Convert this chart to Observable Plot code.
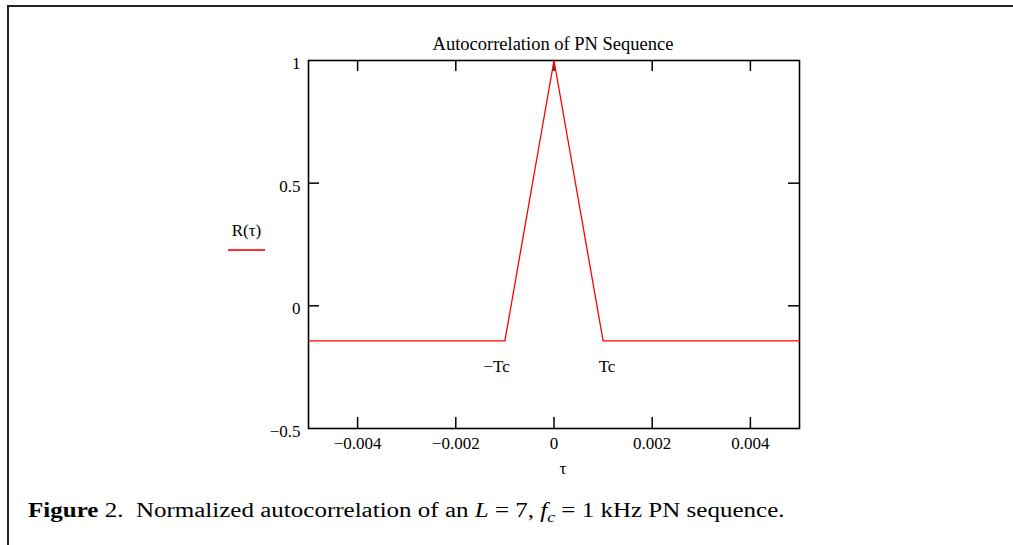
<!DOCTYPE html>
<html>
<head>
<meta charset="utf-8">
<script src="https://cdn.jsdelivr.net/npm/d3@7"></script>
<script src="https://cdn.jsdelivr.net/npm/@observablehq/plot@0.6"></script>
<style>
  html, body { margin: 0; padding: 0; background: #fff; }
  #wrap { position: relative; width: 1013px; height: 545px; overflow: hidden; font-family: "Liberation Serif", "Times New Roman", serif; color: #000; }
  #border { position: absolute; left: 7px; top: 5px; width: 1100px; height: 600px; border-top: 2px solid #222; border-left: 2px solid #222; }
  #chart { position: absolute; left: 0; top: 0; }
  .lbl { position: absolute; white-space: nowrap; font-family: "Liberation Serif", "Times New Roman", serif; }
  #title { left: 0; width: 1106px; text-align: center; top: 34px; font-size: 18.5px; }
  #xlab { left: 563px; transform: translateX(-50%); top: 459px; font-size: 17px; }
  #legend { left: 228px; top: 221px; width: 37px; text-align: center; font-size: 17px; }
  #legline { position: absolute; left: 228px; top: 249px; width: 37px; height: 2px; background: #f33; }
  #caption { left: 28px; top: 499px; font-size: 20.5px; transform: scaleX(1.22); transform-origin: 0 0; }
</style>
</head>
<body>
<div id="wrap">
  <div id="border"></div>
  <div id="chart"></div>
  <div class="lbl" id="title">Autocorrelation of PN Sequence</div>
  <div class="lbl" id="legend">R(τ)</div>
  <div id="legline"></div>
  <div class="lbl" id="xlab">τ</div>
  <div class="lbl" id="caption"><b>Figure</b> 2.&nbsp; Normalized autocorrelation of an <i>L</i> = 7, <i>f<sub style="font-size:0.7em">c</sub></i> = 1 kHz PN sequence.</div>
</div>
<script>
// data: autocorrelation R(tau) of an L = 7 PN sequence, Tc = 1 ms
const tau = [-0.005, -0.001, 0, 0.001, 0.005];
const R = [-1/7, -1/7, 1, -1/7, -1/7];

const xTicks = [-0.004, -0.002, 0, 0.002, 0.004];
const xTickLabels = ["−0.004", "−0.002", "0", "0.002", "0.004"];
const yTicks = [-0.5, 0, 0.5, 1];
const yTickLabels = ["−0.5", "0", "0.5", "1"];

const annoText = ["−Tc", "Tc"];
const annoX = [-0.00117, 0.00108];
const annoY = [-0.248, -0.248];

const xDomain = [-0.005, 0.005];
const yDomain = [-0.5, 1];

const W = 1013, H = 480;
const mL = 308, mR = W - 799, mT = 60, mB = H - 428;
const plotW = W - mL - mR, plotH = H - mT - mB;
const tk = 11;

const series = tau.map((t, i) => ({t, r: R[i]}));
const anno = annoText.map((s, i) => ({s, x: annoX[i], y: annoY[i]}));

const chart = Plot.plot({
  width: W,
  height: H,
  marginLeft: mL, marginRight: mR, marginTop: mT, marginBottom: mB,
  style: {fontFamily: "'Liberation Serif', 'Times New Roman', serif", fontSize: "17px", color: "#000", background: "transparent"},
  x: {domain: xDomain, type: "linear"},
  y: {domain: yDomain, type: "linear"},
  marks: [
    Plot.axisX({anchor: "bottom", ticks: xTicks, tickSize: 0, tickPadding: 8, tickFormat: (d) => xTickLabels[xTicks.indexOf(d)], label: null}),
    Plot.axisY({anchor: "left", ticks: yTicks, tickSize: 0, tickPadding: 8, dy: 3, tickFormat: (d) => yTickLabels[yTicks.indexOf(d)], label: null}),
    // inward tick marks
    Plot.tickX(xTicks, {x: d => d, insetTop: plotH - tk, stroke: "#000", strokeWidth: 1.5}),
    Plot.tickX(xTicks, {x: d => d, insetBottom: plotH - tk, stroke: "#000", strokeWidth: 1.5}),
    Plot.tickY(yTicks.slice(1, 3), {y: d => d, insetRight: plotW - tk, stroke: "#000", strokeWidth: 1.5}),
    Plot.tickY(yTicks.slice(1, 3), {y: d => d, insetLeft: plotW - tk, stroke: "#000", strokeWidth: 1.5}),
    Plot.frame({stroke: "#000", strokeWidth: 1.6}),
    Plot.line(series, {x: "t", y: "r", stroke: "#ff0000", strokeWidth: 1.3}),
    Plot.text(anno, {x: "x", y: "y", text: "s", fontSize: 17, fill: "#000"})
  ]
});
document.getElementById("chart").appendChild(chart);
</script>
</body>
</html>
